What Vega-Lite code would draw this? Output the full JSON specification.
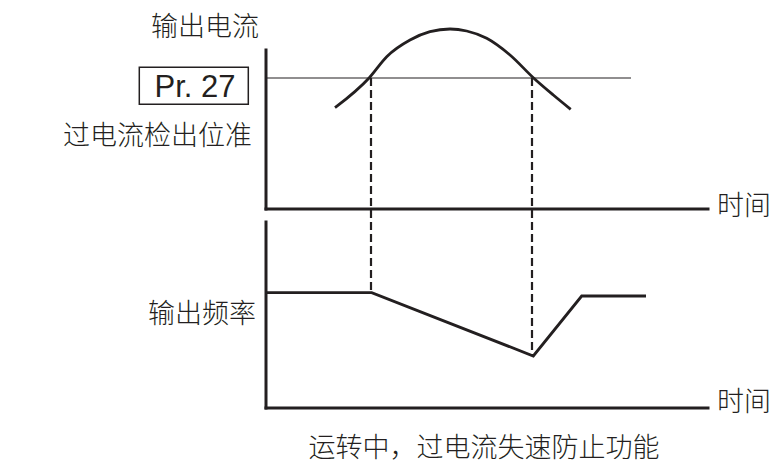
{
  "$schema": "https://vega.github.io/schema/vega-lite/v6.json",
  "width": 782,
  "height": 468,
  "autosize": {"type": "fit", "contains": "padding"},
  "padding": 0,
  "background": "white",
  "config": {"view": {"stroke": null}},
  "datasets": {
    "axes": [
      {"x": 0, "x2": 0, "y": 199, "y2": 358},
      {"x": 0, "x2": 442, "y": 199, "y2": 199},
      {"x": 0, "x2": 0, "y": 0, "y2": 186},
      {"x": 0, "x2": 442, "y": 0, "y2": 0}
    ],
    "threshold": [{"x": 0, "x2": 365, "y": 330, "y2": 330}],
    "guides": [
      {"x": 105, "x2": 105, "y": 330, "y2": 115},
      {"x": 266, "x2": 266, "y": 330, "y2": 52}
    ],
    "current": [
      {"x": 69, "y": 300.3},
      {"x": 103.3, "y": 330.3},
      {"x": 120.7, "y": 351.3},
      {"x": 144, "y": 368},
      {"x": 164, "y": 376.3},
      {"x": 184, "y": 379},
      {"x": 200.7, "y": 377},
      {"x": 220.7, "y": 369.7},
      {"x": 244, "y": 353},
      {"x": 267.3, "y": 330.3},
      {"x": 287.3, "y": 313},
      {"x": 304.7, "y": 298.7}
    ],
    "frequency": [
      {"x": 0, "y": 115.3},
      {"x": 105.7, "y": 115.3},
      {"x": 267.3, "y": 52},
      {"x": 315.7, "y": 112},
      {"x": 380, "y": 112}
    ],
    "box": [{"x": -126.7, "x2": -17.7, "y": 340.7, "y2": 303.7}],
    "param": [{"x": -71, "y": 311, "label": "Pr. 27"}],
    "rightLabels": [
      {"x": -7, "y": 380.5, "label": "输出电流"},
      {"x": -14, "y": 271.5, "label": "过电流检出位准"},
      {"x": -10, "y": 93.5, "label": "输出频率"}
    ],
    "timeLabels": [
      {"x": 451, "y": 201, "label": "时间"},
      {"x": 451, "y": 5, "label": "时间"}
    ],
    "title": [{"x": 218, "y": -41, "label": "运转中，过电流失速防止功能"}]
  },
  "encoding": {
    "x": {"field": "x", "type": "quantitative", "scale": {"domain": [-266, 516], "nice": false, "zero": false}, "axis": null},
    "y": {"field": "y", "type": "quantitative", "scale": {"domain": [-60, 408], "nice": false, "zero": false}, "axis": null}
  },
  "layer": [
    {
      "data": {"name": "threshold"},
      "mark": {"type": "rule", "color": "#231f20", "strokeWidth": 1.2},
      "encoding": {"x2": {"field": "x2"}, "y2": {"field": "y2"}}
    },
    {
      "data": {"name": "guides"},
      "mark": {"type": "rule", "color": "#231f20", "strokeWidth": 2.2, "strokeDash": [8, 4]},
      "encoding": {"x2": {"field": "x2"}, "y2": {"field": "y2"}}
    },
    {
      "data": {"name": "axes"},
      "mark": {"type": "rule", "color": "#231f20", "strokeWidth": 3, "strokeCap": "square"},
      "encoding": {"x2": {"field": "x2"}, "y2": {"field": "y2"}}
    },
    {
      "data": {"name": "current"},
      "mark": {"type": "line", "color": "#231f20", "strokeWidth": 2.8, "interpolate": "monotone"},
      "encoding": {}
    },
    {
      "data": {"name": "frequency"},
      "mark": {"type": "line", "color": "#231f20", "strokeWidth": 2.8, "strokeJoin": "miter"},
      "encoding": {}
    },
    {
      "data": {"name": "box"},
      "mark": {"type": "rect", "fill": "white", "stroke": "#231f20", "strokeWidth": 1.5},
      "encoding": {"x2": {"field": "x2"}, "y2": {"field": "y2"}}
    },
    {
      "data": {"name": "param"},
      "mark": {"type": "text", "font": "Liberation Sans", "fontSize": 31, "align": "center", "baseline": "alphabetic", "color": "#231f20"},
      "encoding": {"text": {"field": "label"}}
    },
    {
      "data": {"name": "rightLabels"},
      "mark": {"type": "text", "font": "Noto Sans CJK SC", "fontSize": 27, "fontWeight": 300, "align": "right", "baseline": "middle", "color": "#231f20"},
      "encoding": {"text": {"field": "label"}}
    },
    {
      "data": {"name": "timeLabels"},
      "mark": {"type": "text", "font": "Noto Sans CJK SC", "fontSize": 27, "fontWeight": 300, "align": "left", "baseline": "middle", "color": "#231f20"},
      "encoding": {"text": {"field": "label"}}
    },
    {
      "data": {"name": "title"},
      "mark": {"type": "text", "font": "Noto Sans CJK SC", "fontSize": 27, "fontWeight": 300, "align": "center", "baseline": "middle", "color": "#231f20"},
      "encoding": {"text": {"field": "label"}}
    }
  ]
}
